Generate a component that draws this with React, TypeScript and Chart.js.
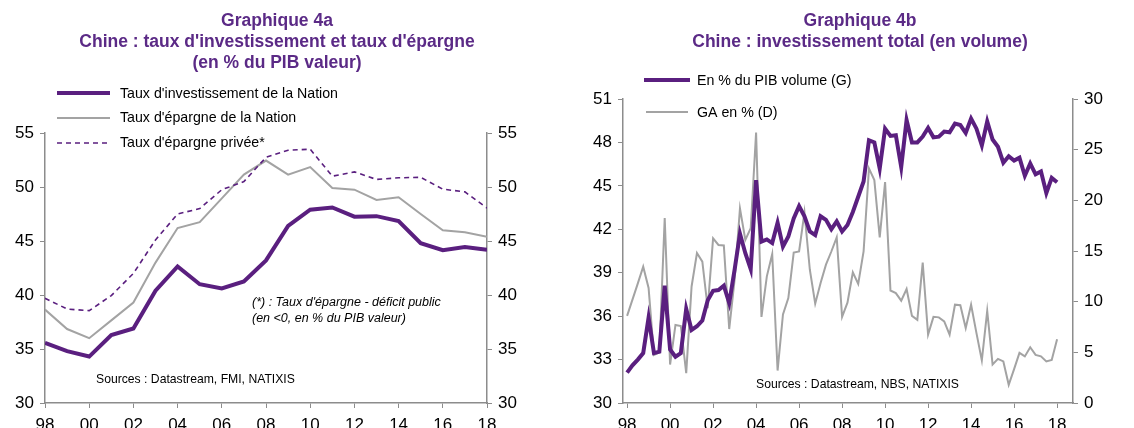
import React, { useEffect, useRef } from 'react';
import { Chart, registerables } from 'chart.js';

Chart.register(...registerables);

// ---------- Graphique 4a (annual, % of nominal GDP) ----------
const annualYears = [1998, 1999, 2000, 2001, 2002, 2003, 2004, 2005, 2006, 2007, 2008, 2009, 2010, 2011, 2012, 2013, 2014, 2015, 2016, 2017, 2018];
const investNation = [35.56, 34.8, 34.3, 36.3, 36.9, 40.4, 42.65, 41.0, 40.6, 41.25, 43.2, 46.4, 47.9, 48.1, 47.25, 47.3, 46.85, 44.8, 44.15, 44.45, 44.2];
const savingNation = [38.65, 36.85, 36.0, 37.65, 39.3, 43.0, 46.2, 46.75, 48.95, 51.15, 52.45, 51.15, 51.85, 49.9, 49.75, 48.8, 49.05, 47.5, 46.0, 45.8, 45.4];
const privateSaving = [39.7, 38.7, 38.55, 39.95, 42.0, 45.1, 47.5, 48.0, 49.75, 50.5, 52.75, 53.4, 53.5, 51.0, 51.4, 50.7, 50.85, 50.9, 49.8, 49.55, 48.05];

// ---------- Graphique 4b (quarterly, 1998Q1 - 2018Q1) ----------
const quarterStartYear = 1998;
const investVolume = [
  32.1, 32.6, 33.0, 33.45, // 1998
  35.9, 33.45, 33.55, 38.1, // 1999
  33.7, 33.2, 33.45, 36.5, // 2000
  35.05, 35.3, 35.7, 37.1, // 2001
  37.75, 37.8, 38.1, 36.9, // 2002
  39.2, 41.7, 40.35, 39.25, // 2003
  45.4, 41.15, 41.3, 41.05, // 2004
  42.45, 40.8, 41.5, 42.75, // 2005
  43.6, 42.9, 41.85, 41.6, // 2006
  42.9, 42.65, 42.0, 42.55, // 2007
  41.85, 42.3, 43.2, 44.25, // 2008
  45.3, 48.15, 48.0, 46.2, // 2009
  48.95, 48.45, 48.5, 46.3, // 2010
  49.55, 48.0, 48.0, 48.4, // 2011
  49.0, 48.35, 48.4, 48.75, // 2012
  48.7, 49.3, 49.2, 48.65, // 2013
  49.65, 48.95, 47.8, 49.45, // 2014
  48.2, 47.7, 46.6, 47.05, // 2015
  46.75, 46.95, 45.7, 46.55, // 2016
  45.8, 46.0, 44.5, 45.55, // 2017
  45.25, // 2018
];
const gaPct = [
  8.6, 10.2, 11.8, 13.45,
  11.35, 4.75, 5.0, 18.25,
  3.8, 7.7, 7.6, 2.95,
  11.5, 14.8, 13.95, 9.35,
  16.25, 15.6, 15.55, 7.3,
  12.15, 19.2, 16.1, 17.25,
  26.7, 8.5, 12.5, 14.7,
  3.2, 8.75, 10.35, 14.85,
  14.95, 18.8, 13.15, 9.8,
  11.85, 13.65, 14.95, 16.35,
  8.5, 9.9, 12.9, 11.75,
  14.95, 23.15, 22.0, 16.35,
  21.8, 11.1, 10.85, 10.1,
  11.25, 8.6, 8.2, 13.85,
  6.75, 8.5, 8.45, 8.05,
  6.75, 9.7, 9.65, 7.4,
  9.7, 6.9, 4.2, 9.1,
  3.8, 4.35, 4.1, 1.8,
  3.35, 4.95, 4.6, 5.5,
  4.75, 4.6, 4.1, 4.25,
  6.3,
];

const PURPLE = '#5a1f7f';
const TITLE_PURPLE = '#5b2a86';
const GREY = '#a3a3a3';
const AXIS = '#8c8c8c';
const FONT = 'Arial, "Liberation Sans", Helvetica, sans-serif';

type Item =
  | { kind: 'text'; x: number; y: number; text: string; font: string; color: string; align?: CanvasTextAlign }
  | { kind: 'line'; x1: number; x2: number; y: number; color: string; width: number; dash?: number[] };

function overlayPlugin(items: Item[]) {
  return {
    id: 'overlay',
    afterDraw(chart: any) {
      const ctx: CanvasRenderingContext2D = chart.ctx;
      ctx.save();
      for (const it of items) {
        if (it.kind === 'text') {
          ctx.font = it.font;
          ctx.fillStyle = it.color;
          ctx.textAlign = it.align || 'left';
          ctx.textBaseline = 'middle';
          ctx.fillText(it.text, it.x, it.y);
        } else {
          ctx.beginPath();
          ctx.strokeStyle = it.color;
          ctx.lineWidth = it.width;
          ctx.setLineDash(it.dash || []);
          ctx.moveTo(it.x1, it.y);
          ctx.lineTo(it.x2, it.y);
          ctx.stroke();
          ctx.setLineDash([]);
        }
      }
      ctx.restore();
    },
  };
}

const yearLabel = (v: any) => String(Math.round(Number(v)) % 100).padStart(2, '0');

function axisCommon(extra: any) {
  return {
    grid: { display: true, drawOnChartArea: false, drawTicks: true, tickLength: 5, color: AXIS, lineWidth: 1 },
    border: { display: true, color: AXIS, width: 1.5 },
    ...extra,
  };
}

function yScale(position: 'left' | 'right', min: number, max: number, step: number, width: number) {
  return axisCommon({
    type: 'linear',
    position,
    min,
    max,
    ticks: { stepSize: step, color: '#000', font: { family: FONT, size: 17 }, padding: 6 },
    afterFit: (s: any) => { s.width = width; },
  });
}

function xScale(min: number, max: number) {
  return axisCommon({
    type: 'linear',
    min,
    max,
    ticks: { stepSize: 2, includeBounds: false, color: '#000', font: { family: FONT, size: 17 }, padding: 7, maxRotation: 0, autoSkip: false, callback: yearLabel },
    afterFit: (s: any) => { s.height = 42; },
  });
}

function ChartA() {
  const ref = useRef<HTMLCanvasElement>(null);
  useEffect(() => {
    const toPts = (arr: number[]) => arr.map((v, i) => ({ x: annualYears[i], y: v }));
    const titleFont = `bold 17.5px ${FONT}`;
    const legFont = `14.2px ${FONT}`;
    const items: Item[] = [
      { kind: 'text', x: 277, y: 21, text: 'Graphique 4a', font: titleFont, color: TITLE_PURPLE, align: 'center' },
      { kind: 'text', x: 277, y: 42, text: "Chine : taux d'investissement et taux d'épargne", font: titleFont, color: TITLE_PURPLE, align: 'center' },
      { kind: 'text', x: 277, y: 63, text: '(en % du PIB valeur)', font: titleFont, color: TITLE_PURPLE, align: 'center' },
      { kind: 'line', x1: 57, x2: 110, y: 93, color: PURPLE, width: 4 },
      { kind: 'text', x: 120, y: 94, text: "Taux d'investissement de la Nation", font: legFont, color: '#000' },
      { kind: 'line', x1: 57, x2: 110, y: 118, color: GREY, width: 2 },
      { kind: 'text', x: 120, y: 118, text: "Taux d'épargne de la Nation", font: legFont, color: '#000' },
      { kind: 'line', x1: 57, x2: 110, y: 143, color: PURPLE, width: 1.6, dash: [5, 4] },
      { kind: 'text', x: 120, y: 143, text: "Taux d'épargne privée*", font: legFont, color: '#000' },
      { kind: 'text', x: 252, y: 303, text: "(*) : Taux d'épargne - déficit public", font: `italic 12.5px ${FONT}`, color: '#000' },
      { kind: 'text', x: 252, y: 319, text: '(en <0, en % du PIB valeur)', font: `italic 12.5px ${FONT}`, color: '#000' },
      { kind: 'text', x: 96, y: 380, text: 'Sources : Datastream, FMI, NATIXIS', font: `12.2px ${FONT}`, color: '#000' },
    ];
    const chart = new Chart(ref.current!, {
      type: 'line',
      data: {
        datasets: [
          { label: "Taux d'investissement de la Nation", data: toPts(investNation), borderColor: PURPLE, borderWidth: 4, pointRadius: 0, tension: 0, yAxisID: 'y' },
          { label: "Taux d'épargne privée*", data: toPts(privateSaving), borderColor: PURPLE, borderWidth: 1.6, borderDash: [5, 4], pointRadius: 0, tension: 0, yAxisID: 'y' },
          { label: "Taux d'épargne de la Nation", data: toPts(savingNation), borderColor: GREY, borderWidth: 2, pointRadius: 0, tension: 0, yAxisID: 'y' },
        ],
      },
      options: {
        animation: false,
        responsive: false,
        devicePixelRatio: 1,
        layout: { padding: { top: 133, left: 0, right: 0, bottom: 0 } },
        plugins: { legend: { display: false }, title: { display: false }, tooltip: { enabled: false } },
        scales: {
          x: xScale(1998, 2018),
          y: yScale('left', 30, 55, 5, 45),
          y1: yScale('right', 30, 55, 5, 80),
        } as any,
      },
      plugins: [overlayPlugin(items)],
    });
    return () => chart.destroy();
  }, []);
  return <canvas ref={ref} width={567} height={445} style={{ display: 'block' }} />;
}

function ChartB() {
  const ref = useRef<HTMLCanvasElement>(null);
  useEffect(() => {
    const toPts = (arr: number[]) => arr.map((v, i) => ({ x: quarterStartYear + i / 4, y: v }));
    const titleFont = `bold 17.5px ${FONT}`;
    const legFont = `14.2px ${FONT}`;
    const items: Item[] = [
      { kind: 'text', x: 293, y: 21, text: 'Graphique 4b', font: titleFont, color: TITLE_PURPLE, align: 'center' },
      { kind: 'text', x: 293, y: 42, text: 'Chine : investissement total (en volume)', font: titleFont, color: TITLE_PURPLE, align: 'center' },
      { kind: 'line', x1: 77, x2: 123, y: 80, color: PURPLE, width: 4 },
      { kind: 'text', x: 130, y: 81, text: 'En % du PIB volume (G)', font: legFont, color: '#000' },
      { kind: 'line', x1: 79, x2: 121, y: 112, color: GREY, width: 2 },
      { kind: 'text', x: 130, y: 113, text: 'GA en % (D)', font: legFont, color: '#000' },
      { kind: 'text', x: 189, y: 385, text: 'Sources : Datastream, NBS, NATIXIS', font: `12.2px ${FONT}`, color: '#000' },
    ];
    const chart = new Chart(ref.current!, {
      type: 'line',
      data: {
        datasets: [
          { label: 'En % du PIB volume (G)', data: toPts(investVolume), borderColor: PURPLE, borderWidth: 4, pointRadius: 0, tension: 0, yAxisID: 'y' },
          { label: 'GA en % (D)', data: toPts(gaPct), borderColor: GREY, borderWidth: 2, pointRadius: 0, tension: 0, yAxisID: 'y1' },
        ],
      },
      options: {
        animation: false,
        responsive: false,
        devicePixelRatio: 1,
        layout: { padding: { top: 99, left: 0, right: 0, bottom: 0 } },
        plugins: { legend: { display: false }, title: { display: false }, tooltip: { enabled: false } },
        scales: {
          x: xScale(1997.81, 2018.74),
          y: yScale('left', 30, 51, 3, 56),
          y1: yScale('right', 0, 30, 5, 61),
        } as any,
      },
      plugins: [overlayPlugin(items)],
    });
    return () => chart.destroy();
  }, []);
  return <canvas ref={ref} width={567} height={445} style={{ display: 'block' }} />;
}

export default function App() {
  return (
    <div style={{ position: 'fixed', left: 0, top: 0, width: 1134, height: 428, overflow: 'hidden', background: '#fff' }}>
      <div style={{ position: 'absolute', left: 0, top: 0 }}>
        <ChartA />
      </div>
      <div style={{ position: 'absolute', left: 567, top: 0 }}>
        <ChartB />
      </div>
    </div>
  );
}
